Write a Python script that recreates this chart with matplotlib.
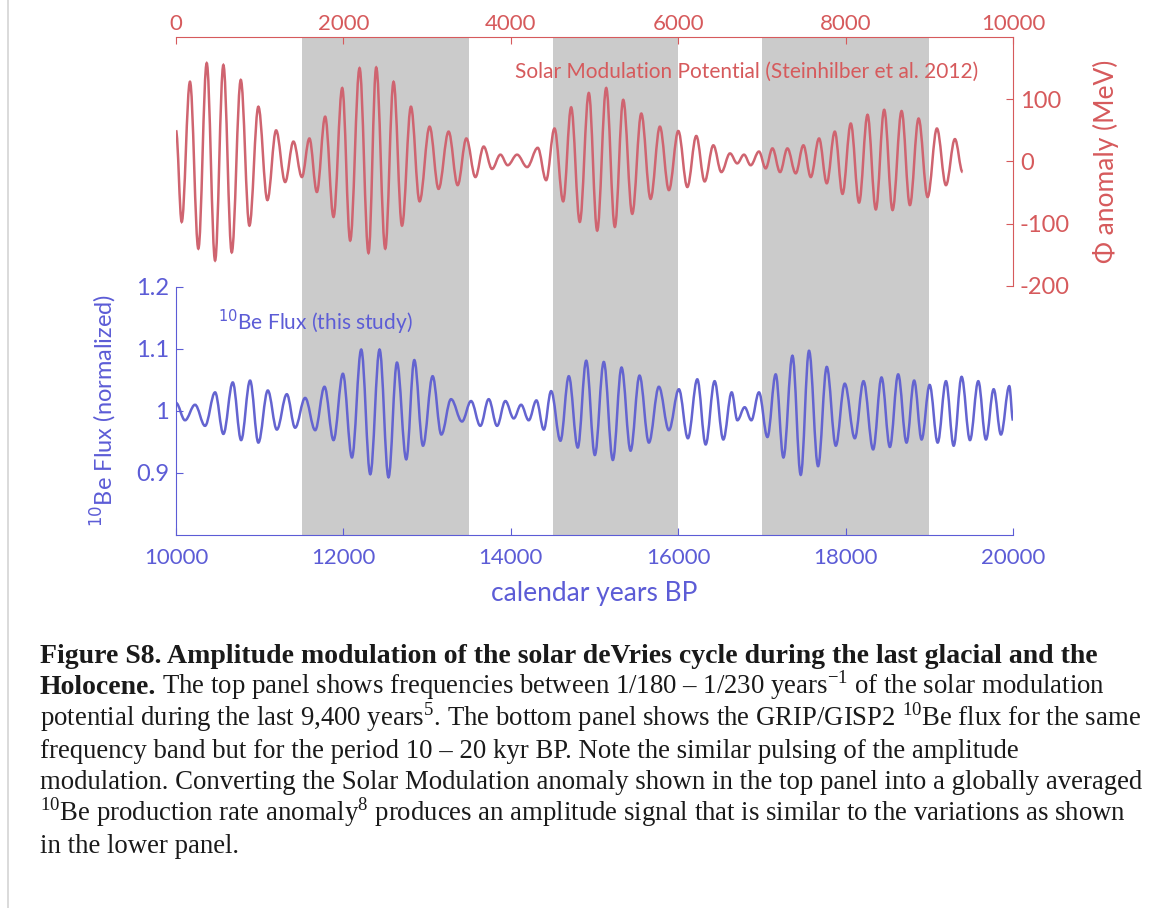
import matplotlib
matplotlib.use("Agg")
import matplotlib.pyplot as plt
from matplotlib.lines import Line2D
from matplotlib.path import Path
from matplotlib.patches import PathPatch

# solar modulation potential, turning points (years BP, MeV)
sm_years = [0, 68, 167, 267, 367, 467, 566, 666, 774, 877,
            984, 1092, 1196, 1304, 1403, 1504, 1594, 1683, 1782, 1882,
            1986, 2081, 2193, 2300, 2392, 2500, 2599, 2700, 2807, 2910,
            3030, 3137, 3257, 3365, 3469, 3577, 3676, 3776, 3876, 3963,
            4075, 4195, 4322, 4422, 4522, 4626, 4721, 4824, 4932, 5032,
            5140, 5243, 5343, 5451, 5559, 5670, 5781, 5889, 6001, 6109,
            6216, 6316, 6420, 6516, 6619, 6705, 6786, 6866, 6965, 7045,
            7126, 7217, 7305, 7404, 7496, 7584, 7683, 7775, 7871, 7963,
            8062, 8161, 8262, 8361, 8461, 8561, 8669, 8768, 8872, 8980,
            9091, 9199, 9306, 9398]
sm_phi = [50, -97, 128, -140, 158, -159, 155, -146, 131, -103,
          88, -62, 50, -33, 32, -25, 37, -49, 72, -89,
          118, -127, 150, -147, 151, -140, 128, -103, 88, -64,
          56, -44, 48, -38, 37, -25, 24, -12, 11, -6,
          11, -9, 22, -30, 53, -64, 87, -97, 110, -111,
          118, -105, 99, -84, 77, -60, 56, -46, 49, -41,
          41, -32, 26, -17, 13, -3, 11, -6, 16, -11,
          21, -17, 21, -19, 26, -25, 37, -35, 48, -52,
          61, -66, 75, -77, 83, -78, 81, -70, 69, -57,
          53, -38, 36, -17]

# 10Be flux, turning points
be_years = [10000, 10108, 10227, 10347, 10467, 10566, 10678, 10778, 10885, 10984,
            11097, 11205, 11324, 11423, 11543, 11663, 11774, 11882, 11994, 12102,
            12213, 12321, 12432, 12539, 12640, 12751, 12847, 12951, 13066, 13170,
            13286, 13417, 13525, 13636, 13736, 13836, 13935, 14035, 14123, 14214,
            14306, 14394, 14482, 14593, 14693, 14800, 14901, 15004, 15111, 15219,
            15323, 15431, 15538, 15650, 15769, 15889, 16008, 16116, 16228, 16328,
            16435, 16539, 16639, 16707, 16794, 16874, 16965, 17066, 17165, 17257,
            17365, 17464, 17563, 17671, 17775, 17883, 17990, 18110, 18214, 18329,
            18429, 18529, 18628, 18728, 18819, 18908, 19004, 19100, 19199, 19291,
            19386, 19486, 19585, 19677, 19769, 19856, 19956, 20000]
be_flux = [1.013, 0.985, 1.010, 0.976, 1.030, 0.963, 1.046, 0.953, 1.049, 0.949,
           1.033, 0.970, 1.027, 0.973, 1.021, 0.969, 1.039, 0.953, 1.060, 0.925,
           1.099, 0.898, 1.099, 0.893, 1.078, 0.922, 1.082, 0.944, 1.056, 0.962,
           1.019, 0.983, 1.016, 0.976, 1.019, 0.976, 1.016, 0.988, 1.010, 0.985,
           1.017, 0.970, 1.032, 0.952, 1.056, 0.941, 1.081, 0.929, 1.079, 0.921,
           1.070, 0.936, 1.057, 0.949, 1.039, 0.969, 1.035, 0.956, 1.051, 0.946,
           1.048, 0.954, 1.030, 0.985, 1.006, 0.985, 1.030, 0.958, 1.059, 0.925,
           1.089, 0.897, 1.097, 0.911, 1.071, 0.944, 1.044, 0.956, 1.048, 0.938,
           1.054, 0.942, 1.059, 0.949, 1.049, 0.954, 1.042, 0.949, 1.048, 0.944,
           1.055, 0.953, 1.048, 0.954, 1.035, 0.962, 1.040, 0.985]

# shaded intervals (bottom axis years)
bands = [(11500, 13500), (14500, 16000), (17000, 19000)]

top_ticks = [0, 2000, 4000, 6000, 8000, 10000]
bot_ticks = [10000, 12000, 14000, 16000, 18000, 20000]
phi_ticks = [-200, -100, 0, 100]
flux_ticks = [0.9, 1.0, 1.1, 1.2]
flux_ticklabels = ["0.9", "1", "1.1", "1.2"]

caption = [
    "potential during the last 9,400 years$^{5}$. The bottom panel shows the GRIP/GISP2 $^{10}$Be flux for the same",
    "frequency band but for the period 10 \u2013 20 kyr BP. Note the similar pulsing of the amplitude",
    "modulation. Converting the Solar Modulation anomaly shown in the top panel into a globally averaged",
    "$^{10}$Be production rate anomaly$^{8}$ produces an amplitude signal that is similar to the variations as shown",
    "in the lower panel.",
]

RED = "#d65a5c"
RED_LINE = "#cf6470"
BLUE = "#5c5cd6"
BLUE_LINE = "#6464d0"


def wave(xs, ys):
    # smooth curve through the turning points (flat tangent at each one)
    verts = [(xs[0], ys[0])]
    codes = [Path.MOVETO]
    for i in range(1, len(xs)):
        dx = xs[i] - xs[i - 1]
        verts += [(xs[i - 1] + 0.364 * dx, ys[i - 1]),
                  (xs[i] - 0.364 * dx, ys[i]),
                  (xs[i], ys[i])]
        codes += [Path.CURVE4] * 3
    return Path(verts, codes)


plt.rcParams["font.family"] = ["Lato", "DejaVu Sans"]
plt.rcParams["axes.unicode_minus"] = False
plt.rcParams["mathtext.fontset"] = "custom"
plt.rcParams["mathtext.rm"] = "Liberation Serif"
plt.rcParams["mathtext.bf"] = "Liberation Serif:bold"

fig = plt.figure(figsize=(11.72, 9.08), dpi=100)
rect = [176 / 1172, 1 - 535 / 908, 837 / 1172, 498 / 908]

# bottom (blue) axes
ax = fig.add_axes(rect)
for a, b in bands:
    ax.axvspan(a, b, color="#cbcbcb", lw=0, zorder=0)
ax.add_patch(PathPatch(wave(be_years, be_flux), fill=False, ec=BLUE_LINE, lw=1.8))
ax.set_xlim(10000, 20000)
ax.set_ylim(0.8, 1.603)
ax.spines["top"].set_visible(False)
ax.spines["right"].set_visible(False)
ax.spines["left"].set_bounds(0.8, 1.2)
for s in ("left", "bottom"):
    ax.spines[s].set_color(BLUE)
ax.set_xticks(bot_ticks)
ax.set_yticks(flux_ticks)
ax.set_yticklabels(flux_ticklabels)
ax.tick_params(axis="x", direction="in", length=5, colors=BLUE, labelsize=16, pad=9)
ax.tick_params(axis="y", direction="in", length=5, colors=BLUE, labelsize=17, pad=5)
ax.set_xlabel("calendar years BP", color=BLUE, fontsize=19, labelpad=10)
ax.set_ylabel("$^{10}$Be Flux (normalized)", color=BLUE, fontsize=17,
              math_fontfamily="dejavusans")
ax.yaxis.set_label_coords(-0.068, 0.25)
ax.text(0.05, 0.426, "$^{10}$Be Flux (this study)", transform=ax.transAxes, color=BLUE,
        fontsize=15, va="center", math_fontfamily="dejavusans")

# top (red) axes, same box
ax2 = fig.add_axes(rect)
ax2.patch.set_visible(False)
ax2.add_patch(PathPatch(wave(sm_years, sm_phi), fill=False, ec=RED_LINE, lw=1.8))
ax2.set_xlim(0, 10000)
ax2.set_ylim(-600, 200)
ax2.spines["bottom"].set_visible(False)
ax2.spines["left"].set_visible(False)
ax2.spines["right"].set_bounds(-200, 200)
for s in ("top", "right"):
    ax2.spines[s].set_color(RED)
ax2.xaxis.tick_top()
ax2.yaxis.tick_right()
ax2.yaxis.set_label_position("right")
ax2.set_xticks(top_ticks)
ax2.set_yticks(phi_ticks)
ax2.tick_params(axis="x", direction="in", length=5, colors=RED, labelsize=16, pad=2)
ax2.tick_params(axis="y", direction="in", length=5, colors=RED, labelsize=17, pad=5)
ax2.set_ylabel("\u03a6 anomaly (MeV)", color=RED, fontsize=19)
ax2.yaxis.set_label_coords(1.095, 0.75)
ax2.text(0.958, 0.93, "Solar Modulation Potential (Steinhilber et al. 2012)",
         transform=ax2.transAxes, color=RED, fontsize=15, ha="right", va="center")

# caption
fig.add_artist(Line2D([8 / 1172, 8 / 1172], [0, 1], color="#d4d4d4", lw=1.2))
cap_kw = dict(family="Liberation Serif", color="#1a1a1a", va="baseline")
x0 = 40 / 1172
base = [663, 694, 726, 758, 789, 821, 853]
fig.text(x0, 1 - base[0] / 908,
         "Figure S8. Amplitude modulation of the solar deVries cycle during the last glacial and the",
         weight="bold", fontsize=20, **cap_kw)
t = fig.text(x0, 1 - base[1] / 908, "Holocene.", weight="bold", fontsize=20, **cap_kw)
r = fig.canvas.get_renderer()
bb = t.get_window_extent(r)
fig.text((bb.x1 + 6) / 1172, 1 - base[1] / 908,
         "The top panel shows frequencies between 1/180 \u2013 1/230 years$^{-1}$ of the solar modulation",
         fontsize=19.3, **cap_kw)
for i, line in enumerate(caption):
    fig.text(x0, 1 - base[i + 2] / 908, line, fontsize=19.3, **cap_kw)

fig.savefig("out.png", dpi=100)
